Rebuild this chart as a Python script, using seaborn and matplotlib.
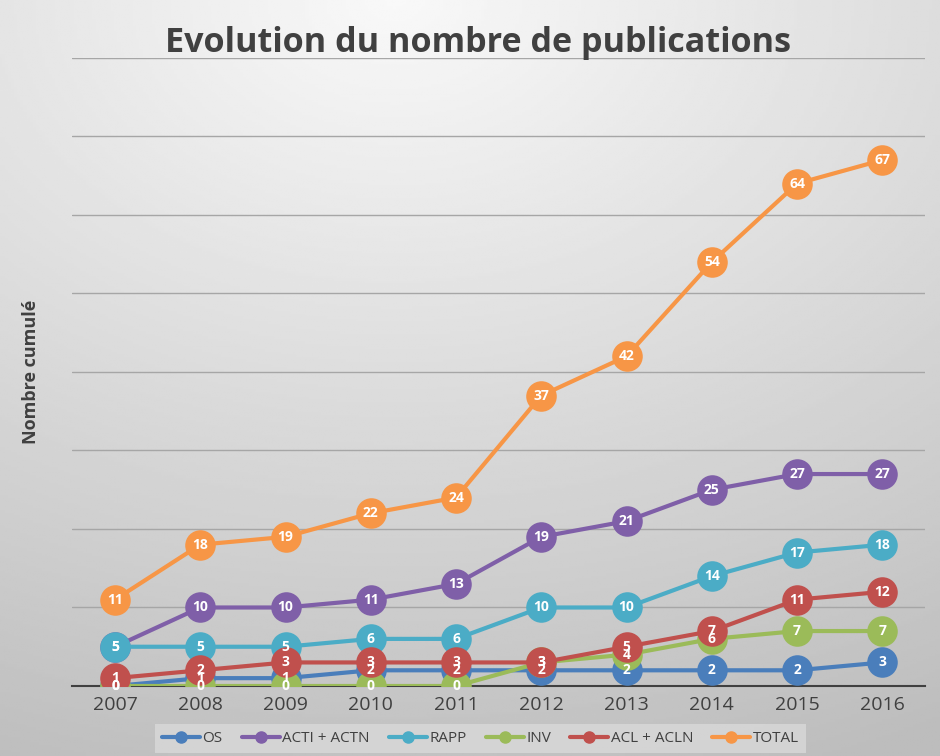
import numpy as np
import pandas as pd
import matplotlib
matplotlib.use("Agg")
import matplotlib.pyplot as plt
import seaborn as sns
from matplotlib.lines import Line2D

# données
annees = [2007, 2008, 2009, 2010, 2011, 2012, 2013, 2014, 2015, 2016]
os_ = [0, 1, 1, 2, 2, 2, 2, 2, 2, 3]
acti_actn = [5, 10, 10, 11, 13, 19, 21, 25, 27, 27]
rapp = [5, 5, 5, 6, 6, 10, 10, 14, 17, 18]
inv = [0, 0, 0, 0, 0, 3, 4, 6, 7, 7]
acl_acln = [1, 2, 3, 3, 3, 3, 5, 7, 11, 12]
total = [11, 18, 19, 22, 24, 37, 42, 54, 64, 67]

series = ["OS", "ACTI + ACTN", "RAPP", "INV", "ACL + ACLN", "TOTAL"]
valeurs = [os_, acti_actn, rapp, inv, acl_acln, total]
couleurs = ["#4A7EBB", "#7F5FA8", "#4BACC6", "#9BBB59", "#C0504D", "#F79646"]

df = pd.DataFrame({
    "annee": np.tile(np.arange(len(annees)), len(series)),
    "serie": np.repeat(series, len(annees)),
    "valeur": np.concatenate(valeurs),
})

sns.set_style("white")
plt.rcParams['font.family'] = ['Open Sans', 'DejaVu Sans']

fig = plt.figure(figsize=(9.4, 7.56), dpi=100)

# fond en dégradé
bg = fig.add_axes([0, 0, 1, 1], zorder=-10)
yy, xx = np.mgrid[0:1:300j, 0:1:300j]
d = np.sqrt(((xx - 0.42) * 1.0) ** 2 + (yy * 1.15) ** 2)
d = np.clip(d / 1.25, 0, 1)
c0, c1 = 0.975, 0.74
img = c0 + (c1 - c0) * d
bg.imshow(img, cmap="gray", vmin=0, vmax=1, aspect="auto", extent=[0, 1, 1, 0])
bg.axis("off")

ax = fig.add_axes([0.077, 0.0926, 0.907, 0.8307])
ax.patch.set_alpha(0)

sns.lineplot(data=df, x="annee", y="valeur", hue="serie", hue_order=series,
             palette=couleurs, marker="o", markersize=22, linewidth=3,
             markeredgewidth=0, ax=ax, legend=False, zorder=3)

for lbl, vals, col in zip(series, valeurs, couleurs):
    for i, v in enumerate(vals):
        ax.text(i, v, str(v), ha="center", va="center", color="white",
                fontsize=10, fontweight="bold", zorder=10)

ax.set_xlim(-0.5, len(annees) - 0.5)
ax.set_ylim(0, 80)
ax.set_yticks(np.arange(0, 81, 10))
ax.set_yticklabels([])
ax.tick_params(axis="y", length=0)
ax.set_xticks(range(len(annees)))
ax.set_xticklabels(annees, fontsize=14, color="#404040")
ax.tick_params(axis="x", length=0, pad=7)
ax.grid(axis="y", color="#a6a6a6", linewidth=1)
ax.set_axisbelow(True)
for s in ["top", "right", "left"]:
    ax.spines[s].set_visible(False)
ax.spines["bottom"].set_color("#404040")
ax.spines["bottom"].set_linewidth(1.5)
ax.set_xlabel("")
ax.set_ylabel("Nombre cumulé", fontsize=13, fontweight="bold", color="#404040", labelpad=20)

fig.text(0.508, 0.943, "Evolution du nombre de publications", ha="center", va="center",
         fontsize=24.6, fontweight="bold", color="#404040")

handles = [Line2D([0], [0], color=c, lw=3, marker="o", markersize=8) for c in couleurs]
leg = fig.legend(handles, series, loc="lower center", bbox_to_anchor=(0.511, -0.006), ncol=6,
                 frameon=True, fontsize=11, handlelength=2.5, columnspacing=1.25,
                 handletextpad=0.15, borderpad=0.45)
leg.get_frame().set_facecolor("#d9d9d9")
leg.get_frame().set_edgecolor("none")
leg.get_frame().set_boxstyle("square", pad=0)
for t in leg.get_texts():
    t.set_color("#404040")

fig.savefig("out.png", dpi=100)
